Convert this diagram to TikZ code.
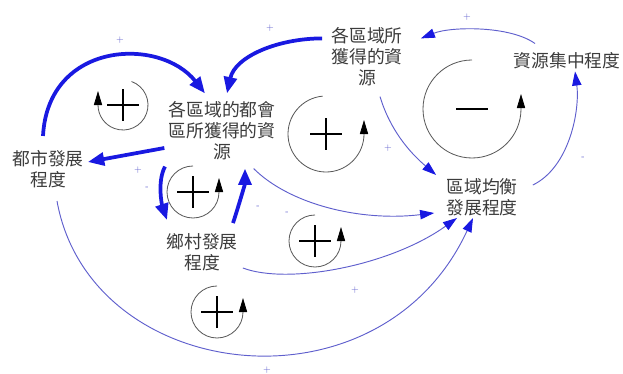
\documentclass[tikz,border=0pt]{standalone}
\usepackage{fontspec}
\usepackage{tikz}
\usetikzlibrary{arrows.meta,positioning,calc}
\newfontfamily\cjk{Noto Sans CJK TC}
\definecolor{thickblue}{RGB}{25,25,225}
\definecolor{thinblue}{RGB}{95,95,205}
\definecolor{textgray}{RGB}{60,60,60}

\begin{document}
\begin{tikzpicture}[x=0.03cm, y=0.03cm,
    var/.style={align=center, inner sep=0pt, text=textgray, font=\cjk\fontsize{15.2}{18}\selectfont},
    bigarrow/.style={-{Triangle[length=14pt,width=11pt]}, line width=3.2pt, thickblue},
    thinarrow/.style={-{Triangle[length=12pt,width=8pt,color=thickblue]}, line width=0.8pt, thinblue},
    polarity/.style={text=thinblue, font=\fontsize{8}{8}\selectfont, inner sep=0pt},
    loopline/.style={-{Triangle[length=12pt,width=7pt,color=black]}, gray!70!black, line width=0.7pt},
    loopsign/.style={line width=1.2pt, black}]
    \useasboundingbox (0,0) rectangle (623,-374);

    % Variables
    \node[var] (cityres) at (222,-131) {各區域的都會\\區所獲得的資\\源};
    \node[var] (regres) at (367,-57) {各區域所\\獲得的資\\源};
    \node[var] (conc) at (567,-61) {資源集中程度};
    \node[var] (bal) at (482,-197) {區域均衡\\發展程度};
    \node[var] (city) at (48,-169) {都市發展\\程度};
    \node[var] (rural) at (202,-252) {鄉村發展\\程度};

    % Thick links
    \draw[bigarrow] ([shift={(-5,14)}]city.north) .. controls +(5,95) and +(-45,57) .. ([shift={(-17,8)}]cityres.north);
    \draw[bigarrow] ([shift={(-9,-11)}]regres.north west) .. controls +(-44,0) and +(8,37) .. ([shift={(5,8)}]cityres.north);
    \draw[bigarrow] ([shift={(-4,-17)}]cityres.west) -- ([shift={(4,7)}]city.east);
    \draw[bigarrow] ([shift={(-57,-6)}]cityres.south) .. controls +(-8,-15) and +(-5,15) .. ([shift={(-35,13)}]rural.north);
    \draw[bigarrow] ([shift={(31,10)}]rural.north) .. controls +(5,15) and +(0,-15) .. ([shift={(23,-8)}]cityres.south);

    % Thin links
    \draw[thinarrow] ([shift={(-32,9)}]conc.north) .. controls +(-25,18) and +(30,12) .. ([shift={(18,-11)}]regres.north east);
    \draw[thinarrow] ([shift={(15,-7)}]bal.north east) .. controls +(37,18) and +(5,-38) .. ([shift={(8,-2)}]conc.south);
    \draw[thinarrow] ([shift={(13,-10)}]regres.south) .. controls +(10,-33) and +(-27,23) .. ([shift={(-10,3)}]bal.north west);
    \draw[thinarrow] ([shift={(-22,-8)}]cityres.south east) .. controls +(35,-35) and +(-75,-9) .. ([shift={(-12,-16)}]bal.west);
    \draw[thinarrow] ([shift={(5,-16)}]rural.east) .. controls +(45,-17) and +(-67,-48) .. ([shift={(-25,-2)}]bal.south);
    \draw[thinarrow] ([shift={(9,-13)}]city.south) .. controls +(33,-183) and +(-93,-201) .. ([shift={(-9,-2)}]bal.south);

    % Polarities
    \node[polarity] (p1) at (120,-40) {+};
    \node[polarity] (p2) at (270,-28) {+};
    \node[polarity] (p3) at (467,-17) {+};
    \node[polarity] (p4) at (583,-158) {-};
    \node[polarity] (p5) at (388,-148) {+};
    \node[polarity] (p6) at (138,-170) {+};
    \node[polarity] (p7) at (147,-188) {-};
    \node[polarity] (p8) at (258,-207) {-};
    \node[polarity] (p9) at (287,-213) {-};
    \node[polarity] (p10) at (355,-290) {+};
    \node[polarity] (p11) at (267,-370) {+};

    % Loops
    \coordinate (L1) at (123,-105);
    \draw[loopline] (L1) ++(70:25) arc (70:-180:25) -- ++(0,14);
    \draw[loopsign] ($(L1)+(-16,0)$) -- ++(32,0) ($(L1)+(0,-16)$) -- ++(0,32);

    \coordinate (L2) at (193,-192);
    \draw[loopline] (L2) ++(90:26) arc (90:360:26) -- ++(0,14);
    \draw[loopsign] ($(L2)+(-16,0)$) -- ++(32,0) ($(L2)+(0,-16)$) -- ++(0,32);

    \coordinate (L3) at (326,-134);
    \draw[loopline] (L3) ++(95:38) arc (95:360:38) -- ++(0,14);
    \draw[loopsign] ($(L3)+(-16,0)$) -- ++(32,0) ($(L3)+(0,-16)$) -- ++(0,32);

    \coordinate (L4) at (472,-109);
    \draw[loopline] (L4) ++(90:49) arc (90:360:49) -- ++(0,15);
    \draw[loopsign] ($(L4)+(-16,0)$) -- ++(32,0);

    \coordinate (L5) at (315,-241);
    \draw[loopline] (L5) ++(90:26) arc (90:360:26) -- ++(0,14);
    \draw[loopsign] ($(L5)+(-16,0)$) -- ++(32,0) ($(L5)+(0,-16)$) -- ++(0,32);

    \coordinate (L6) at (217,-312);
    \draw[loopline] (L6) ++(90:26) arc (90:360:26) -- ++(0,14);
    \draw[loopsign] ($(L6)+(-16,0)$) -- ++(32,0) ($(L6)+(0,-16)$) -- ++(0,32);
\end{tikzpicture}
\end{document}
